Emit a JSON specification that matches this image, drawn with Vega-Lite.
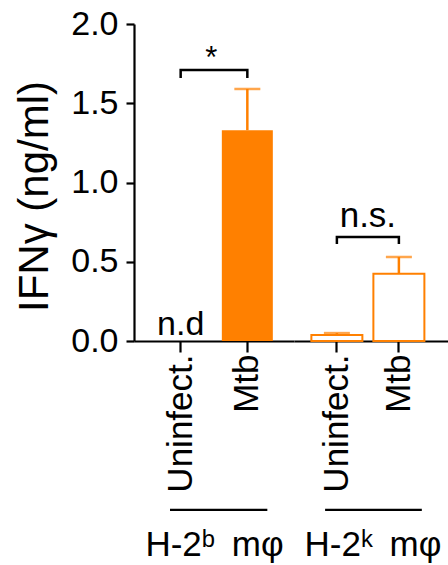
{
  "$schema": "https://vega.github.io/schema/vega-lite/v6.json",
  "padding": {"left": 13, "top": 7, "right": 0, "bottom": 0},
  "spacing": 0,
  "bounds": "flush",
  "config": {
    "view": {"stroke": null},
    "font": "Liberation Sans",
    "axis": {
      "labelFont": "Liberation Sans",
      "titleFont": "Liberation Sans",
      "labelColor": "#000000",
      "titleColor": "#000000",
      "domainColor": "#000000",
      "tickColor": "#000000",
      "domainWidth": 2.2,
      "tickWidth": 2.2,
      "grid": false,
      "titleFontWeight": "normal"
    }
  },
  "resolve": {"scale": {"x": "independent", "y": "independent"}},
  "hconcat": [
    {
      "width": 160,
      "height": 317,
      "layer": [
        {
          "data": {"values": [{"cond": "Mtb", "mean": 1.33, "upper": 1.59}]},
          "mark": {"type": "bar", "width": 51, "fill": "#FF8000"},
          "encoding": {
            "x": {
              "field": "cond", "type": "nominal",
              "scale": {"domain": ["Uninfect.", "Mtb"], "paddingInner": 0, "paddingOuter": 0.2},
              "axis": {"labelAngle": 270, "labelFontSize": 35, "tickSize": 11, "labelPadding": 2, "title": "H-2ᵇ\u00a0\u2009mφ", "titleFontSize": 35, "titlePadding": 35}
            },
            "y": {
              "field": "mean", "type": "quantitative",
              "scale": {"domain": [0, 2], "nice": false},
              "axis": {"title": "IFNγ (ng/ml)", "values": [0, 0.5, 1, 1.5, 2], "format": ".1f", "labelFontSize": 34, "titleFontSize": 42, "tickSize": 8, "labelPadding": 8, "titlePadding": 14, "titleY": 172}
            }
          }
        },
        {
          "data": {"values": [{"cond": "Mtb", "mean": 1.33, "upper": 1.59}]},
          "mark": {"type": "rule", "color": "#FF8000", "strokeWidth": 2.5},
          "encoding": {
            "x": {"field": "cond", "type": "nominal", "bandPosition": 0.5},
            "y": {"field": "mean", "type": "quantitative"},
            "y2": {"field": "upper"}
          }
        },
        {
          "data": {"values": [{"cond": "Mtb", "mean": 1.33, "upper": 1.59}]},
          "mark": {"type": "tick", "color": "#FF8000", "size": 26, "thickness": 2.5},
          "encoding": {
            "x": {"field": "cond", "type": "nominal"},
            "y": {"field": "upper", "type": "quantitative"}
          }
        },
        {
          "data": {"values": [
            {"cond": "Uninfect.", "by": 1.66, "ord": 1},
            {"cond": "Uninfect.", "by": 1.71, "ord": 2},
            {"cond": "Mtb", "by": 1.71, "ord": 3},
            {"cond": "Mtb", "by": 1.66, "ord": 4}
          ]},
          "mark": {"type": "line", "color": "#000000", "strokeWidth": 2.5, "strokeJoin": "miter", "strokeCap": "butt"},
          "encoding": {
            "x": {"field": "cond", "type": "nominal", "bandPosition": 0.5},
            "y": {"field": "by", "type": "quantitative"},
            "order": {"field": "ord", "type": "quantitative"}
          }
        },
        {
          "data": {"values": [{"cond": "Mtb", "label": "*", "ty": 1.72}]},
          "mark": {"type": "text", "fontSize": 31, "font": "Liberation Sans", "color": "#000000", "baseline": "alphabetic", "align": "center"},
          "encoding": {
            "x": {"field": "cond", "type": "nominal", "bandPosition": -0.04},
            "y": {"field": "ty", "type": "quantitative"},
            "text": {"field": "label"}
          }
        },
        {
          "data": {"values": [{"cond": "Uninfect.", "label": "n.d", "ty": 0.04}]},
          "mark": {"type": "text", "fontSize": 34, "font": "Liberation Sans", "color": "#000000", "baseline": "alphabetic", "align": "center"},
          "encoding": {
            "x": {"field": "cond", "type": "nominal", "bandPosition": 0.5},
            "y": {"field": "ty", "type": "quantitative"},
            "text": {"field": "label"}
          }
        },
        {
          "data": {"values": [{"from": "Uninfect.", "to": "Mtb"}]},
          "mark": {"type": "rule", "color": "#000000", "strokeWidth": 2.2},
          "encoding": {
            "x": {"field": "from", "type": "nominal", "bandPosition": 0.34},
            "x2": {"field": "to", "bandPosition": 0.8},
            "y": {"datum": -1.066}
          }
        }
      ]
    },
    {
      "width": 157,
      "height": 317,
      "layer": [
        {
          "data": {"values": [
            {"cond": "Uninfect.", "mean": 0.038, "upper": 0.05},
            {"cond": "Mtb", "mean": 0.425, "upper": 0.53}
          ]},
          "mark": {"type": "bar", "width": 51, "fill": "#FFFFFF", "stroke": "#FF8000", "strokeWidth": 2},
          "encoding": {
            "x": {
              "field": "cond", "type": "nominal",
              "scale": {"domain": ["Uninfect.", "Mtb"], "paddingInner": 0, "paddingOuter": 0.266, "align": 0.36},
              "axis": {"labelAngle": 270, "labelFontSize": 35, "tickSize": 11, "labelPadding": 2, "title": "H-2ᵏ\u00a0\u2009mφ", "titleFontSize": 35, "titlePadding": 35}
            },
            "y": {
              "field": "mean", "type": "quantitative",
              "scale": {"domain": [0, 2], "nice": false},
              "axis": null
            }
          }
        },
        {
          "data": {"values": [
            {"cond": "Uninfect.", "mean": 0.038, "upper": 0.05},
            {"cond": "Mtb", "mean": 0.425, "upper": 0.53}
          ]},
          "mark": {"type": "rule", "color": "#FF8000", "strokeWidth": 2.5},
          "encoding": {
            "x": {"field": "cond", "type": "nominal", "bandPosition": 0.5},
            "y": {"field": "mean", "type": "quantitative"},
            "y2": {"field": "upper"}
          }
        },
        {
          "data": {"values": [
            {"cond": "Uninfect.", "mean": 0.038, "upper": 0.05},
            {"cond": "Mtb", "mean": 0.425, "upper": 0.53}
          ]},
          "mark": {"type": "tick", "color": "#FF8000", "size": 26, "thickness": 2.5},
          "encoding": {
            "x": {"field": "cond", "type": "nominal"},
            "y": {"field": "upper", "type": "quantitative"}
          }
        },
        {
          "data": {"values": [
            {"cond": "Uninfect.", "by": 0.612, "ord": 1},
            {"cond": "Uninfect.", "by": 0.656, "ord": 2},
            {"cond": "Mtb", "by": 0.656, "ord": 3},
            {"cond": "Mtb", "by": 0.612, "ord": 4}
          ]},
          "mark": {"type": "line", "color": "#000000", "strokeWidth": 2.5, "strokeJoin": "miter", "strokeCap": "butt"},
          "encoding": {
            "x": {"field": "cond", "type": "nominal", "bandPosition": 0.5},
            "y": {"field": "by", "type": "quantitative"},
            "order": {"field": "ord", "type": "quantitative"}
          }
        },
        {
          "data": {"values": [{"cond": "Mtb", "label": "n.s.", "ty": 0.72}]},
          "mark": {"type": "text", "fontSize": 35, "font": "Liberation Sans", "color": "#000000", "baseline": "alphabetic", "align": "center"},
          "encoding": {
            "x": {"field": "cond", "type": "nominal", "bandPosition": 0},
            "y": {"field": "ty", "type": "quantitative"},
            "text": {"field": "label"}
          }
        },
        {
          "data": {"values": [{"from": "Uninfect.", "to": "Mtb"}]},
          "mark": {"type": "rule", "color": "#000000", "strokeWidth": 2.2},
          "encoding": {
            "x": {"field": "from", "type": "nominal", "bandPosition": 0.31},
            "x2": {"field": "to", "bandPosition": 0.87},
            "y": {"datum": -1.066}
          }
        }
      ]
    }
  ]
}
